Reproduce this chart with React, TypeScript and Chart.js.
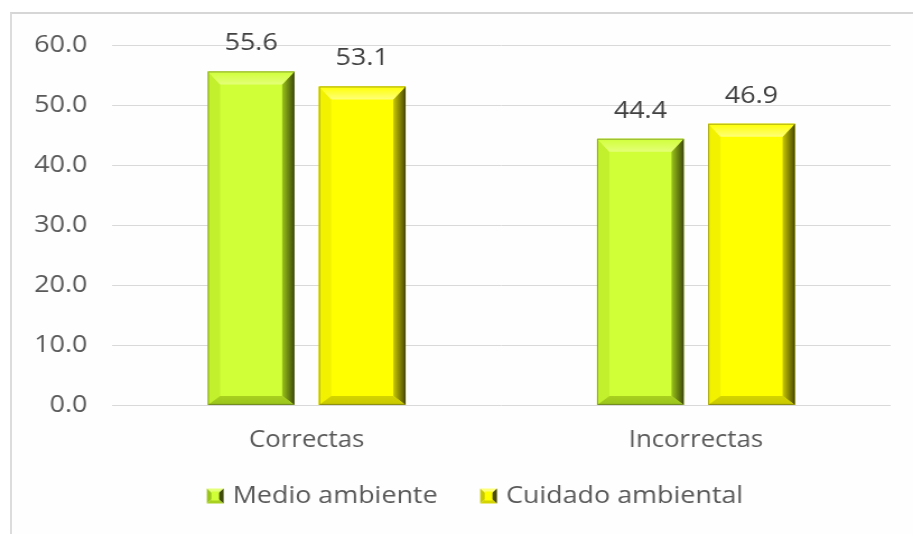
import { useEffect, useRef } from 'react';
import { Chart, registerables } from 'chart.js';

Chart.register(...registerables);

const categories = ['Correctas', 'Incorrectas'];
const medioAmbiente = [55.6, 44.4];
const cuidadoAmbiental = [53.1, 46.9];
const seriesNames = ['Medio ambiente', 'Cuidado ambiental'];
const yMin = 0;
const yMax = 60;
const yStep = 10;

const FONT = '"Open Sans", "Liberation Sans", sans-serif';
const TEXT = '#595959';
const STRETCH = 913 / 815;

type Palette = { base: string; top: string; left: string; right: string; dark: string; bottom: string };
const palettes: Palette[] = [
  { base: '#d0ff38', top: '#e4ff78', left: '#c2f02c', right: '#9ac41c', dark: '#3e4a08', bottom: '#a8d020' },
  { base: '#ffff00', top: '#ffff7a', left: '#f2f200', right: '#c8c800', dark: '#4a4a00', bottom: '#d4d400' },
];

function poly(ctx: CanvasRenderingContext2D, pts: number[][], fill: string | CanvasGradient) {
  ctx.beginPath();
  ctx.moveTo(pts[0][0], pts[0][1]);
  for (let i = 1; i < pts.length; i++) ctx.lineTo(pts[i][0], pts[i][1]);
  ctx.closePath();
  ctx.fillStyle = fill;
  ctx.fill();
}

const bevelPlugin = {
  id: 'bevel',
  afterDatasetsDraw(chart: any) {
    const ctx: CanvasRenderingContext2D = chart.ctx;
    chart.data.datasets.forEach((_ds: any, di: number) => {
      const meta = chart.getDatasetMeta(di);
      const p = palettes[di];
      meta.data.forEach((bar: any) => {
        const { x, y, base, width } = bar.getProps(['x', 'y', 'base', 'width'], true);
        const l = x - width / 2;
        const r = x + width / 2;
        const t = y;
        const b = base;
        const bv = 13;
        const bh = 11;
        const bb = 9;
        ctx.save();
        poly(ctx, [[l, t], [r, t], [r, b], [l, b]], p.base);
        poly(ctx, [[l, t], [l + bh, t + bv], [l + bh, b - bb], [l, b]], p.left);
        const gr = ctx.createLinearGradient(r - bh, 0, r, 0);
        gr.addColorStop(0, p.right);
        gr.addColorStop(1, p.dark);
        poly(ctx, [[r, t], [r, b], [r - bh, b - bb], [r - bh, t + bv]], gr);
        const gb = ctx.createLinearGradient(0, b - bb, 0, b);
        gb.addColorStop(0, p.bottom);
        gb.addColorStop(1, p.right);
        poly(ctx, [[l, b], [r, b], [r - bh, b - bb], [l + bh, b - bb]], gb);
        const gt = ctx.createLinearGradient(0, t, 0, t + bv);
        gt.addColorStop(0, p.base);
        gt.addColorStop(1, p.top);
        poly(ctx, [[l, t], [r, t], [r - bh, t + bv], [l + bh, t + bv]], gt);
        ctx.strokeStyle = 'rgba(60,60,40,0.45)';
        ctx.lineWidth = 1;
        ctx.strokeRect(l + 0.5, t + 0.5, width - 1, b - t - 1);
        ctx.restore();
      });
      meta.data.forEach((bar: any, i: number) => {
        const val = chart.data.datasets[di].data[i] as number;
        ctx.save();
        ctx.font = `24px ${FONT}`;
        ctx.fillStyle = '#404040';
        ctx.textAlign = 'center';
        ctx.textBaseline = 'middle';
        ctx.fillText(val.toFixed(1), bar.x, bar.y - 28);
        ctx.restore();
      });
    });
  },
};

function drawMarker(ctx: CanvasRenderingContext2D, x: number, y: number, s: number, p: Palette) {
  const l = x, t = y, r = x + s, b = y + s;
  const cx = x + s / 2, cy = y + s / 2;
  poly(ctx, [[l, t], [r, t], [cx, cy]], p.top);
  poly(ctx, [[l, b], [r, b], [cx, cy]], p.bottom);
  poly(ctx, [[l, t], [l, b], [cx, cy]], p.right);
  poly(ctx, [[r, t], [r, b], [cx, cy]], p.dark);
  poly(ctx, [[l + 4, t + 3], [r - 4, t + 3], [r - 4, b - 3], [l + 4, b - 3]], p.base);
}

const legendPlugin = {
  id: 'customLegend',
  afterDraw(chart: any) {
    const ctx: CanvasRenderingContext2D = chart.ctx;
    ctx.save();
    ctx.font = `24px ${FONT}`;
    const box = 15;
    const gap = 8;
    const spacing = 38;
    const widths = seriesNames.map((n) => ctx.measureText(n).width);
    const total = widths.reduce((a, w) => a + box + gap + w, 0) + spacing * (seriesNames.length - 1);
    const centerX = 424;
    const cy = 496;
    let cx = centerX - total / 2;
    seriesNames.forEach((n, i) => {
      drawMarker(ctx, cx, cy - box / 2, box, palettes[i]);
      ctx.fillStyle = TEXT;
      ctx.textAlign = 'left';
      ctx.textBaseline = 'middle';
      ctx.fillText(n, cx + box + gap, cy);
      cx += box + gap + widths[i] + spacing;
    });
    ctx.restore();
  },
};

export default function App() {
  const ref = useRef<HTMLCanvasElement | null>(null);
  useEffect(() => {
    if (!ref.current) return;
    const chart = new Chart(ref.current, {
      type: 'bar',
      data: {
        labels: categories,
        datasets: [
          { label: seriesNames[0], data: medioAmbiente, backgroundColor: palettes[0].base, categoryPercentage: 0.571, barPercentage: 0.78 },
          { label: seriesNames[1], data: cuidadoAmbiental, backgroundColor: palettes[1].base, categoryPercentage: 0.571, barPercentage: 0.78 },
        ],
      },
      options: {
        animation: false,
        responsive: true,
        maintainAspectRatio: false,
        layout: { padding: { left: 0, right: 20, top: 45, bottom: 59 } },
        plugins: { legend: { display: false }, tooltip: { enabled: false } },
        scales: {
          x: {
            grid: { display: false, drawTicks: false },
            border: { display: false },
            ticks: { color: TEXT, font: { family: FONT, size: 23 }, padding: 21 },
          },
          y: {
            min: yMin,
            max: yMax,
            afterFit: (scale: any) => { scale.width = 100; },
            grid: { color: '#d9d9d9', lineWidth: 1, drawTicks: false },
            border: { display: false },
            ticks: {
              stepSize: yStep,
              color: TEXT,
              font: { family: FONT, size: 24 },
              padding: 22,
              callback: (v: any) => Number(v).toFixed(1),
            },
          },
        },
      },
      plugins: [bevelPlugin, legendPlugin],
    });
    return () => chart.destroy();
  }, []);

  return (
    <div style={{ position: 'absolute', left: 0, top: 0, width: 913, height: 534, background: '#fff', overflow: 'hidden' }}>
      <div style={{ position: 'absolute', left: 10, top: 12, width: 905, height: 530, borderTop: '2px solid #d6d6d6', borderLeft: '2px solid #dcdcdc', background: '#fefefe' }} />
      <div style={{ position: 'absolute', left: 0, top: 0, width: 815, height: 534, transform: `scaleX(${STRETCH})`, transformOrigin: '0 0' }}>
        <canvas ref={ref} />
      </div>
    </div>
  );
}
